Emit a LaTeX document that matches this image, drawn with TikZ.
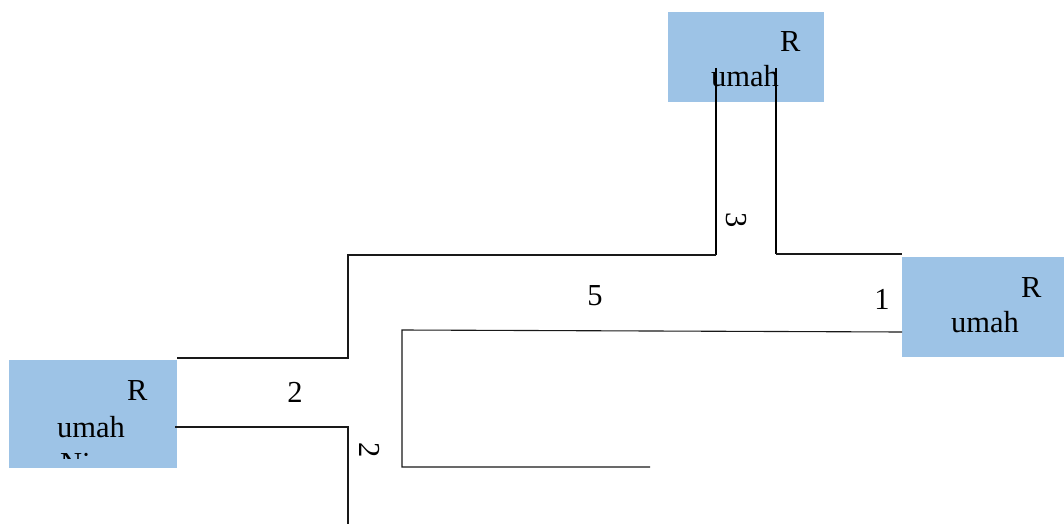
\documentclass[tikz,border=0pt]{standalone}
\usepackage{fontspec}
\setmainfont{Liberation Serif}
\definecolor{boxblue}{HTML}{9DC3E6}
\tikzset{
  house/.style={fill=boxblue,draw=none},
  road/.style={line width=1.1pt,black!90},
  roadthick/.style={line width=2.2pt,black},
  txt/.style={inner sep=0pt,anchor=base west,font=\fontsize{30.5}{36}\selectfont},
  lbl/.style={inner sep=0pt,font=\fontsize{30.5}{36}\selectfont}
}
\begin{document}
\begin{tikzpicture}[x=1pt,y=-1pt]
\useasboundingbox (0,0) rectangle (1064,524);
% houses
\fill[house] (668,12) rectangle (824,102);
\fill[house] (9,360) rectangle (177,468);
\fill[house] (902,257) rectangle (1064,357);
% texts in houses
\node[txt] (t1) at (780,52) {R};
\node[txt] (t2) at (711,87) {umah};
\node[txt] (r1) at (1021,297) {R};
\node[txt] (r2) at (951,332) {umah};
\node[txt] (l1) at (127,400) {R};
\node[txt] (l2) at (57,437) {umah};
\begin{scope}
\clip (9,360) rectangle (177,458);
\node[txt] (l3) at (60,473) {Ni};
\end{scope}
% roads
\draw[roadthick] (716,68) -- (716,255);
\draw[roadthick] (776,68) -- (776,254);
\draw[road] (716,255) -- (348,255) -- (348,358) -- (177,358);
\draw[road] (776,254) -- (902,254);
\draw[road] (902,332) -- (402,330) -- (402,467) -- (650,467);
\draw[road] (175,427) -- (348,427) -- (348,524);
% labels
\node[lbl,rotate=-90] (n3) at (736,220) {3};
\node[lbl] (n5) at (595,296) {5};
\node[lbl] (n1) at (882,299) {1};
\node[lbl] (n2a) at (295,392) {2};
\node[lbl,rotate=-90] (n2b) at (370,450) {2};
\end{tikzpicture}
\end{document}
